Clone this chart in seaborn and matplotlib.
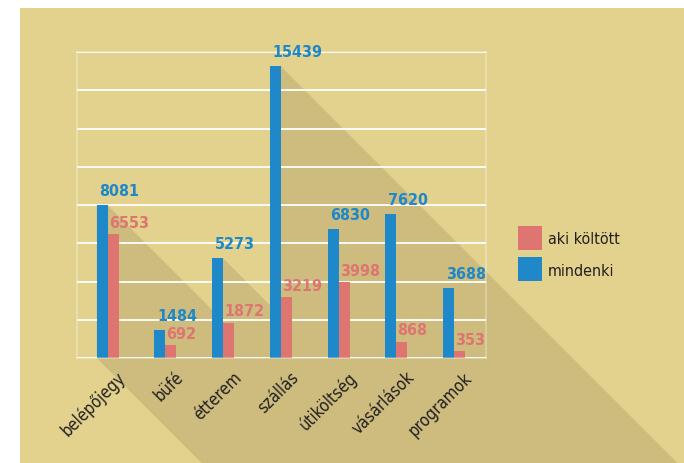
import matplotlib
matplotlib.use("Agg")
import matplotlib.pyplot as plt
import matplotlib.transforms as mtransforms
from matplotlib import font_manager
from matplotlib.patches import Polygon, Rectangle
import pandas as pd
import seaborn as sns

categories = ["belépőjegy", "büfé", "étterem", "szállás", "útiköltség", "vásárlások", "programok"]
mindenki = [8081, 1484, 5273, 15439, 6830, 7620, 3688]
aki_koltott = [6553, 692, 1872, 3219, 3998, 868, 353]

BG = "#E2D28E"
SHADOW = "#CDBC7E"
BLUE = "#1E88C8"
PINK = "#DF7571"
DARK = "#231F20"
GRID = (1, 1, 1, 0.3)


def _w(w):
    if isinstance(w, str):
        return {"light": 300, "normal": 400, "regular": 400, "medium": 500,
                "semibold": 600, "demibold": 600, "bold": 700, "heavy": 800, "black": 900}.get(w, 400)
    return w


# a narrow font with a bold face if there is one
fams = {}
for f in font_manager.fontManager.ttflist:
    if "Narrow" in f.name or "Condensed" in f.name or f.stretch in ("condensed", "semi-condensed"):
        fams.setdefault((f.name, f.stretch), set()).add(_w(f.weight))
good = [k for k, ws in fams.items() if any(w >= 600 for w in ws) and any(350 <= w <= 500 for w in ws)]
if good:
    FONT = [good[0][0], "DejaVu Sans"]
    STRETCH = good[0][1]
else:
    FONT = ["Lato", "DejaVu Sans"]
    STRETCH = "normal"

df = pd.DataFrame({
    "kategoria": categories * 2,
    "ertek": mindenki + aki_koltott,
    "csoport": ["mindenki"] * len(categories) + ["aki költött"] * len(categories),
})

sns.set_style("white")
plt.rcParams["font.family"] = FONT
plt.rcParams["font.stretch"] = STRETCH

fig = plt.figure(figsize=(6.84, 4.64), dpi=100, facecolor="white")
fig.add_artist(Rectangle((20 / 684, 0), 1, 455 / 464, transform=fig.transFigure,
                         facecolor=BG, edgecolor="none", zorder=-1))

ax = fig.add_axes([77 / 684, 105 / 464, 409 / 684, 306 / 464])
ax.set_facecolor("none")

sns.barplot(data=df, x="kategoria", y="ertek", hue="csoport",
            hue_order=["mindenki", "aki költött"], palette=[BLUE, PINK],
            width=0.38, saturation=1, linewidth=0, edgecolor="none", ax=ax, zorder=2)

ymax = 16200
ax.set_xlim(-0.53, 6.55)
ax.set_ylim(0, ymax)
ax.set_yticks([ymax * i / 8 for i in range(9)])
ax.set_yticklabels([])
ax.set_axisbelow(True)
ax.grid(axis="y", color=GRID, lw=1.3)
ax.tick_params(length=0)
ax.set_xlabel("")
ax.set_ylabel("")
for s in ax.spines.values():
    s.set_visible(True)
    s.set_edgecolor(GRID)
    s.set_linewidth(1.3)

# long shadow behind the bars, 45 degrees down-right
L = 900
for p in ax.patches:
    if p.get_height() <= 0:
        continue
    (x0, y0), (x1, y1) = ax.transData.transform(
        [(p.get_x(), 0), (p.get_x() + p.get_width(), p.get_height())])
    poly = Polygon([(x0, y1), (x1, y1), (x1 + L, y1 - L), (x1 + L, y0 - L),
                    (x0 + L, y0 - L), (x0, y0)], closed=True,
                   transform=mtransforms.IdentityTransform(),
                   facecolor=SHADOW, edgecolor="none", zorder=0.2, clip_on=False)
    ax.add_artist(poly)

# value labels
for cont, col, dx, dy in zip(ax.containers, [BLUE, PINK], [2, 0.8], [5, 3]):
    for p in cont.patches:
        ax.annotate(f"{int(round(p.get_height()))}", (p.get_x(), p.get_height()),
                    xytext=(dx, dy), textcoords="offset points",
                    ha="left", va="bottom", color=col, fontsize=11.5,
                    fontweight="bold", family=FONT, fontstretch=STRETCH, zorder=3)

ax.set_xticks(range(len(categories)))
ax.set_xticklabels(categories, rotation=45, ha="right", rotation_mode="anchor",
                   fontsize=12, color=DARK, family=FONT, fontstretch=STRETCH)
ax.tick_params(axis="x", pad=7)
off = mtransforms.ScaledTranslation(9 / 100, 0, fig.dpi_scale_trans)
for lab in ax.get_xticklabels():
    lab.set_transform(lab.get_transform() + off)

handles, labels = ax.get_legend_handles_labels()
ax.legend(handles[::-1], labels[::-1], loc="upper left",
          bbox_to_anchor=(510 / 684, (464 - 219) / 464), bbox_transform=fig.transFigure,
          frameon=False, borderpad=0, handlelength=1.5, handleheight=1.95,
          labelspacing=0.45, handletextpad=0.35, labelcolor=DARK,
          prop={"family": FONT, "size": 11.5, "stretch": STRETCH})

fig.savefig("out.png", dpi=100, facecolor="white")
